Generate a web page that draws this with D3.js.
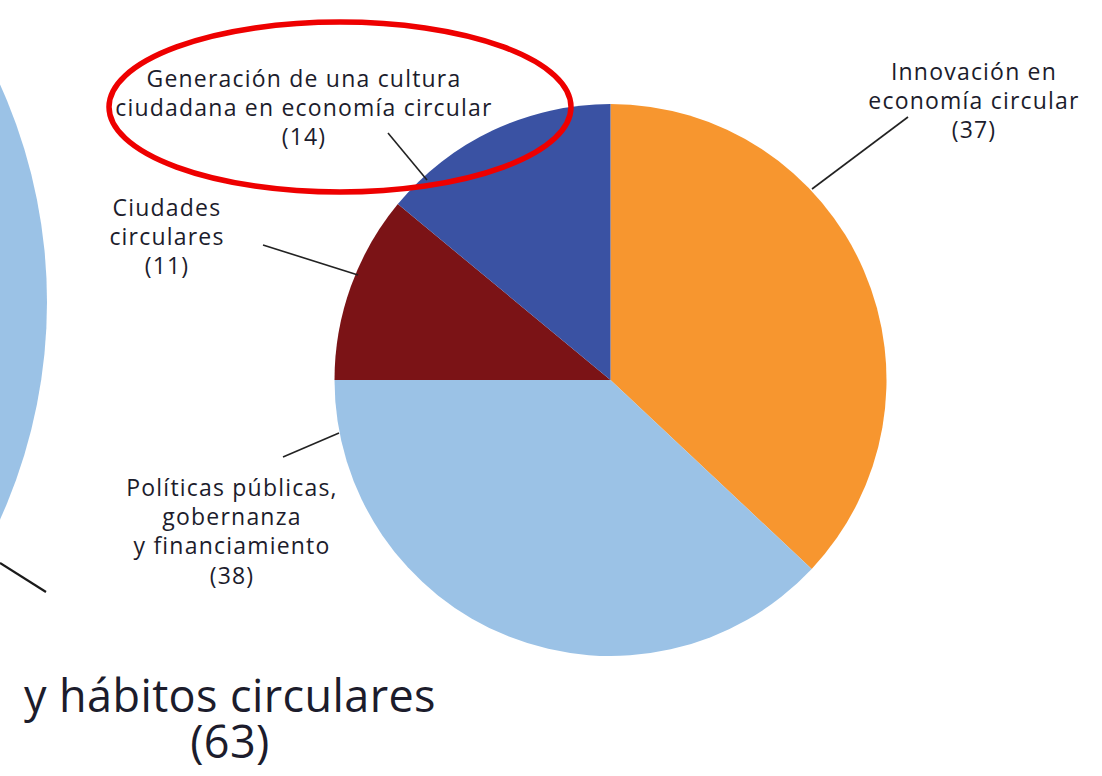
<!DOCTYPE html>
<html>
<head>
<meta charset="utf-8">
<script src="https://cdn.jsdelivr.net/npm/d3@7"></script>
<style>
  html, body { margin: 0; padding: 0; background: #fff; }
  svg { display: block; }
</style>
</head>
<body>
<svg id="chart" width="1102" height="776"></svg>
<script>
// ---- data ----
const categories = [
  "Innovación en economía circular",
  "Políticas públicas, gobernanza y financiamiento",
  "Ciudades circulares",
  "Generación de una cultura ciudadana en economía circular"
];
const values = [37, 38, 11, 14];
const labelLines = [
  ["Innovación en", "economía circular", "(37)"],
  ["Políticas públicas,", "gobernanza", "y financiamiento", "(38)"],
  ["Ciudades", "circulares", "(11)"],
  ["Generación de una cultura", "ciudadana en economía circular", "(14)"]
];
const colors = ["#F7962F", "#9BC2E6", "#7B1316", "#3A52A3"];
const neighbourLabel = ["y hábitos circulares", "(63)"];

// ---- layout ----
const W = 1102, H = 776;
const cx = 610.5, cy = 380, R = 276;
const labelCfg = [
  { x: 974, y: 80,  lead: [[812, 189], [908, 117]] },
  { x: 232, y: 496, lead: [[339, 433], [283, 457]] },
  { x: 167, y: 216, lead: [[358, 275], [263, 245]] },
  { x: 304, y: 87,  lead: [[427, 180], [388, 133]] }
];
const lineH = 29.2;
const fontFamily = "'Open Sans', 'DejaVu Sans', sans-serif";
const textColor = "#1c1c2c";

const svg = d3.select("#chart");

// neighbouring (cut-off) pie on the left
svg.append("circle")
  .attr("cx", -480).attr("cy", 302).attr("r", 527)
  .attr("fill", colors[1]);
svg.append("line")
  .attr("x1", 0).attr("y1", 563).attr("x2", 46).attr("y2", 592)
  .attr("stroke", "#1a1a1a").attr("stroke-width", 2.2);

// main pie
const pie = d3.pie().sort(null).value(d => d)(values);
const arc = d3.arc().innerRadius(0).outerRadius(R);
const g = svg.append("g").attr("transform", `translate(${cx},${cy})`);
g.selectAll("path").data(pie).join("path")
  .attr("d", arc)
  .attr("fill", (d, i) => colors[i]);

// leader lines
svg.selectAll("line.lead").data(labelCfg).join("line")
  .attr("class", "lead")
  .attr("x1", d => d.lead[0][0]).attr("y1", d => d.lead[0][1])
  .attr("x2", d => d.lead[1][0]).attr("y2", d => d.lead[1][1])
  .attr("stroke", "#222").attr("stroke-width", 1.6);

// labels
labelCfg.forEach((c, i) => {
  const t = svg.append("text")
    .attr("text-anchor", "middle")
    .attr("font-family", fontFamily)
    .attr("font-size", 23)
    .attr("letter-spacing", 1.2)
    .attr("fill", textColor);
  labelLines[i].forEach((ln, k) => {
    t.append("tspan").attr("x", c.x).attr("y", c.y + k * lineH).text(ln);
  });
});

// neighbour pie title
const bt = svg.append("text")
  .attr("text-anchor", "middle")
  .attr("font-family", fontFamily)
  .attr("font-size", 45)
  .attr("letter-spacing", 0.4)
  .attr("fill", textColor);
neighbourLabel.forEach((ln, k) => {
  bt.append("tspan").attr("x", 230).attr("y", 712 + k * 46).text(ln);
});

// red highlight ellipse
svg.append("ellipse")
  .attr("cx", 340).attr("cy", 107).attr("rx", 231).attr("ry", 85)
  .attr("fill", "none").attr("stroke", "#EE0000").attr("stroke-width", 5.5);
</script>
</body>
</html>
